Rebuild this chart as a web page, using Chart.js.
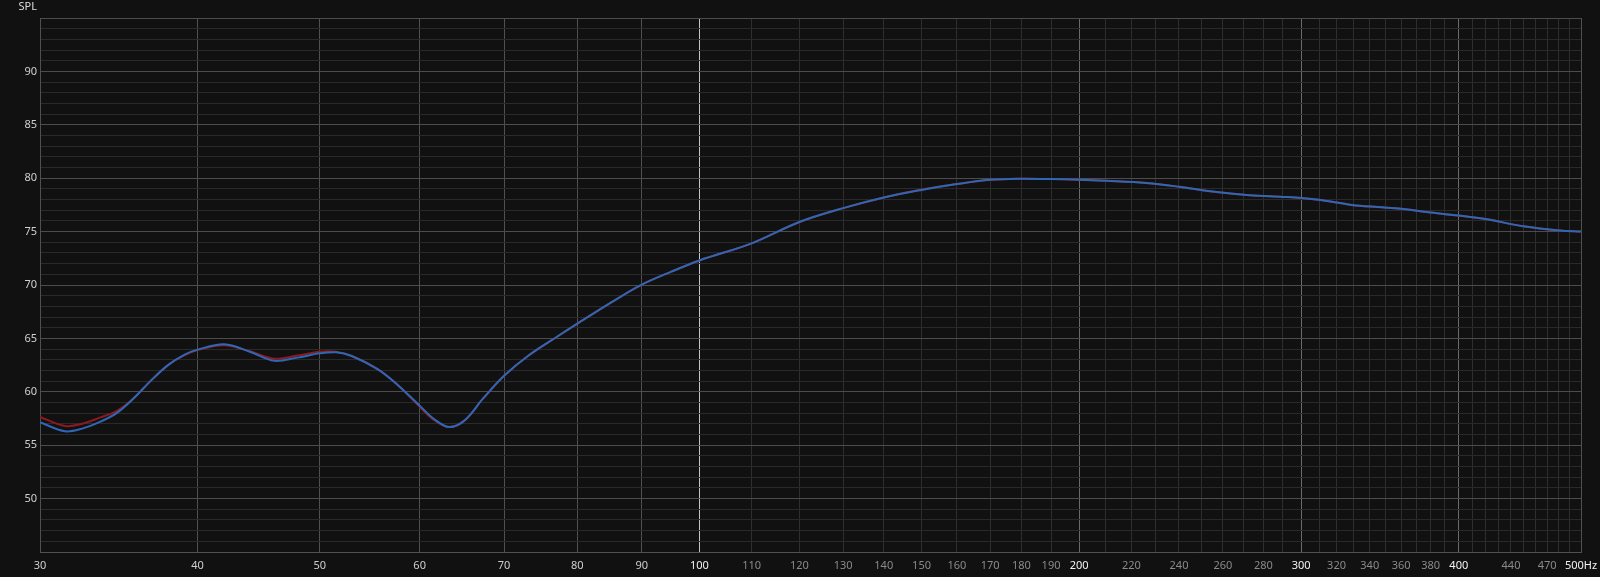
<!DOCTYPE html>
<html>
<head>
<meta charset="utf-8">
<script src="https://cdn.jsdelivr.net/npm/chart.js@4.4.1/dist/chart.umd.min.js"></script>
<style>
  html, body { margin: 0; padding: 0; background: #111111; }
  #wrap { width: 1600px; height: 577px; position: relative; }
</style>
</head>
<body>
<div id="wrap"><canvas id="c"></canvas></div>
<script>
// ---- Data ----
const freqs = [30, 31.4, 32.4, 33.5, 34.5, 35.6, 36.7, 37.9, 39.1, 40, 42, 44, 46, 48, 50, 51.5, 53, 55.6, 57.7, 60, 61.6, 63.3, 65.1, 67.4, 70, 73.2, 77.2, 80.3, 85.2, 89.7, 95, 100, 110, 120, 130, 140, 150, 160, 170, 180, 190, 200, 210, 226, 240, 257, 273, 290, 300, 311, 329, 345, 360, 373, 400, 421, 450, 481, 500];
const blueSPL = [57.15, 56.3, 56.55, 57.2, 58.0, 59.4, 61.0, 62.5, 63.5, 63.95, 64.45, 63.75, 62.9, 63.2, 63.6, 63.7, 63.35, 62.1, 60.6, 58.7, 57.45, 56.7, 57.3, 59.4, 61.5, 63.4, 65.2, 66.5, 68.4, 69.95, 71.25, 72.3, 73.9, 75.9, 77.2, 78.2, 78.9, 79.45, 79.85, 79.95, 79.92, 79.85, 79.75, 79.55, 79.2, 78.7, 78.4, 78.25, 78.15, 77.95, 77.5, 77.3, 77.15, 76.9, 76.5, 76.15, 75.5, 75.1, 75.0];
const redSPL  = [57.65, 56.8, 57.0, 57.6, 58.2, 59.4, 61.0, 62.5, 63.45, 63.9, 64.35, 63.8, 63.1, 63.4, 63.75, 63.75, 63.35, 62.1, 60.6, 58.6, 57.35, 56.7, 57.3, 59.4, 61.5, 63.4, 65.2, 66.5, 68.4, 69.95, 71.25, 72.3, 73.9, 75.9, 77.2, 78.2, 78.95, 79.45, 79.85, 79.95, 79.92, 79.85, 79.75, 79.55, 79.2, 78.7, 78.4, 78.25, 78.15, 77.95, 77.5, 77.3, 77.15, 76.9, 76.5, 76.15, 75.5, 75.1, 75.0];

// Axis ticks
const xGridFreqs = [];
for (let f = 30; f <= 500; f += 10) xGridFreqs.push(f);
const xTickLabels = [30, 40, 50, 60, 70, 80, 90, 100, 110, 120, 130, 140, 150, 160, 170, 180, 190, 200, 220, 240, 260, 280, 300, 320, 340, 360, 380, 400, 440, 470, 500];
const xBrightLabels = [100, 200, 300, 400, 500];
const yGridValues = [];
for (let v = 45; v <= 95; v++) yGridValues.push(v);
const yTickLabels = [50, 55, 60, 65, 70, 75, 80, 85, 90];
const yTitle = 'SPL';
const xUnit = 'Hz';

const toPts = (ys) => freqs.map((f, i) => ({ x: f, y: ys[i] }));

const bgPlugin = {
  id: 'bg',
  beforeDraw(chart) {
    const ctx = chart.ctx;
    ctx.save();
    ctx.fillStyle = '#111111';
    ctx.fillRect(0, 0, chart.width, chart.height);
    ctx.restore();
  },
  afterDraw(chart) {
    const ctx = chart.ctx;
    const a = chart.chartArea;
    ctx.save();
    ctx.fillStyle = '#dddddd';
    ctx.font = '11px "Noto Sans", sans-serif';
    ctx.textAlign = 'right';
    ctx.textBaseline = 'middle';
    ctx.fillText(yTitle, a.left - 3, 7);
    ctx.restore();
  }
};

function xGridColor(v) {
  if (v === 100) return '#c4c4c4';
  if (v === 200 || v === 300 || v === 400) return '#6a6a6a';
  if (v <= 90 || v === 500) return '#505050';
  return '#2e2e2e';
}

new Chart(document.getElementById('c'), {
  type: 'line',
  data: {
    datasets: [
      { label: 'B', data: toPts(blueSPL), borderColor: '#2f66b6', borderWidth: 2, pointRadius: 0, tension: 0.35, fill: false },
      { label: 'A', data: toPts(redSPL), borderColor: '#8c1a1e', borderWidth: 2, pointRadius: 0, tension: 0.35, fill: false }
    ]
  },
  options: {
    responsive: true,
    maintainAspectRatio: false,
    animation: false,
    layout: { padding: { top: 18, right: 19, left: 0, bottom: 0 } },
    plugins: { legend: { display: false }, tooltip: { enabled: false } },
    scales: {
      x: {
        type: 'logarithmic',
        min: 30, max: 500,
        afterBuildTicks: (s) => { s.ticks = xGridFreqs.map(v => ({ value: v })); },
        afterFit: (s) => { s.height = 25; s.paddingLeft = 0; s.paddingRight = 0; },
        border: { color: '#505050', width: 1 },
        grid: {
          drawTicks: false,
          color: (c) => xGridColor(c.tick ? c.tick.value : 0),
          lineWidth: 1
        },
        ticks: {
          autoSkip: false, maxRotation: 0, minRotation: 0, padding: 7,
          font: { family: '"Noto Sans", sans-serif', size: 11 },
          color: (c) => {
            const v = c.tick ? c.tick.value : 0;
            if (xBrightLabels.includes(v)) return '#f2f2f2';
            if (v <= 90) return '#cfcfcf';
            return '#8a8a8a';
          },
          callback: (v) => xTickLabels.includes(v) ? (v === 500 ? v + xUnit : String(v)) : ''
        }
      },
      y: {
        type: 'linear',
        min: 45, max: 95,
        afterBuildTicks: (s) => { s.ticks = yGridValues.map(v => ({ value: v })); },
        afterFit: (s) => { s.width = 40; },
        border: { color: '#505050', width: 1 },
        grid: {
          z: -1,
          drawTicks: false,
          color: (c) => {
            const v = c.tick ? c.tick.value : 0;
            return v % 5 === 0 ? '#4c4c4c' : '#2a2a2a';
          },
          lineWidth: 1
        },
        ticks: {
          autoSkip: false, padding: 3,
          font: { family: '"Noto Sans", sans-serif', size: 11 },
          color: '#d0d0d0',
          callback: (v) => yTickLabels.includes(v) ? String(v) : ''
        }
      }
    }
  },
  plugins: [bgPlugin]
});
</script>
</body>
</html>
